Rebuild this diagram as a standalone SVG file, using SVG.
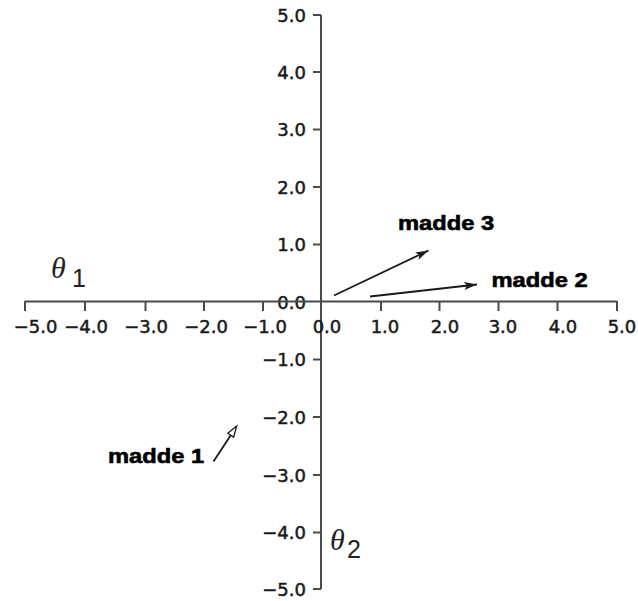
<svg xmlns="http://www.w3.org/2000/svg" width="638" height="601" viewBox="0 0 638 601">
<style>
.ax{stroke:#4a4a4a;stroke-width:2;fill:none}
.tk{stroke:#4a4a4a;stroke-width:2}
.tl{font-family:"DejaVu Sans",sans-serif;font-size:18px;fill:#1a1a1a;stroke:#1a1a1a;stroke-width:0.5}
.xl{text-anchor:middle}
.yl{text-anchor:end}
.th{font-family:"Liberation Serif",serif;font-style:italic;font-size:30px;fill:#222}
.sub{font-family:"Liberation Sans",sans-serif;font-size:25px;fill:#222}
.lab{font-family:"Liberation Sans",Arial,sans-serif;font-weight:bold;font-size:21px;fill:#000;stroke:#000;stroke-width:0.6}
.vec{stroke:#1a1a1a;stroke-width:1.8;fill:none}
</style>
<defs>
<marker id="ah" markerWidth="15" markerHeight="10" refX="13" refY="5" orient="auto" markerUnits="userSpaceOnUse">
<path d="M0,1 L13,5 L0,9 L3,5 Z" fill="#1a1a1a"/>
</marker>
<marker id="ahh" markerWidth="14" markerHeight="10" refX="1" refY="5" orient="auto" markerUnits="userSpaceOnUse">
<path d="M1,1.5 L12,5 L1,8.5 Z" fill="#fff" stroke="#1a1a1a" stroke-width="1.3"/>
</marker>
</defs>
<rect width="638" height="601" fill="#fff"/>
<g id="axes">
<line class="ax" x1="321" y1="15" x2="321" y2="589"/>
<g id="y-ticks">
<line class="tk" x1="313" y1="15" x2="321" y2="15"/>
<line class="tk" x1="313" y1="72" x2="321" y2="72"/>
<line class="tk" x1="313" y1="129.5" x2="321" y2="129.5"/>
<line class="tk" x1="313" y1="187" x2="321" y2="187"/>
<line class="tk" x1="313" y1="244.5" x2="321" y2="244.5"/>
<line class="tk" x1="313" y1="359.5" x2="321" y2="359.5"/>
<line class="tk" x1="313" y1="417" x2="321" y2="417"/>
<line class="tk" x1="313" y1="475" x2="321" y2="475"/>
<line class="tk" x1="313" y1="532.5" x2="321" y2="532.5"/>
<line class="tk" x1="313" y1="589" x2="321" y2="589"/>
</g>
<g id="y-labels" class="tl yl">
<text x="306" y="21.5">5.0</text>
<text x="306" y="78.5">4.0</text>
<text x="306" y="136">3.0</text>
<text x="306" y="193.5">2.0</text>
<text x="306" y="251">1.0</text>
<text x="306" y="308.5">0.0</text>
<text x="306" y="366">−1.0</text>
<text x="306" y="423.5">−2.0</text>
<text x="306" y="481.5">−3.0</text>
<text x="306" y="539">−4.0</text>
<text x="306" y="595.5">−5.0</text>
</g>
<line class="ax" x1="25" y1="301.5" x2="617" y2="301.5"/>
<g id="x-ticks">
<line class="tk" x1="25" y1="301" x2="25" y2="311"/>
<line class="tk" x1="85" y1="301" x2="85" y2="311"/>
<line class="tk" x1="145.5" y1="301" x2="145.5" y2="311"/>
<line class="tk" x1="204" y1="301" x2="204" y2="311"/>
<line class="tk" x1="263" y1="301" x2="263" y2="311"/>
<line class="tk" x1="381" y1="301" x2="381" y2="311"/>
<line class="tk" x1="439.5" y1="301" x2="439.5" y2="311"/>
<line class="tk" x1="498.5" y1="301" x2="498.5" y2="311"/>
<line class="tk" x1="557.5" y1="301" x2="557.5" y2="311"/>
<line class="tk" x1="617" y1="301" x2="617" y2="311"/>
</g>
<g id="x-labels" class="tl xl">
<text x="35.5" y="333">−5.0</text>
<text x="86" y="333">−4.0</text>
<text x="146" y="333">−3.0</text>
<text x="206" y="333">−2.0</text>
<text x="265" y="333">−1.0</text>
<text x="327" y="333">0.0</text>
<text x="385" y="333">1.0</text>
<text x="445" y="333">2.0</text>
<text x="503" y="333">3.0</text>
<text x="563" y="333">4.0</text>
<text x="622" y="333">5.0</text>
</g>
<g id="theta1">
<text class="th" x="51" y="278">θ</text>
<text class="sub" x="72" y="287">1</text>
</g>
<g id="theta2">
<text class="th" x="330" y="550">θ</text>
<text class="sub" x="347" y="558">2</text>
</g>
</g>
<g id="connectors">
<line class="vec" x1="334" y1="295.5" x2="428.5" y2="250.5" marker-end="url(#ah)"/>
<line class="vec" x1="370" y1="296.5" x2="477" y2="284.5" marker-end="url(#ah)"/>
<line class="vec" x1="213.5" y1="461.5" x2="230.7" y2="435.2" marker-end="url(#ahh)"/>
</g>
<g id="madde3"><text class="lab" transform="translate(398,230) scale(1.13,1)">madde 3</text></g>
<g id="madde2"><text class="lab" transform="translate(491.5,287) scale(1.13,1)">madde 2</text></g>
<g id="madde1"><text class="lab" transform="translate(108,463) scale(1.13,1)">madde 1</text></g>
</svg>
